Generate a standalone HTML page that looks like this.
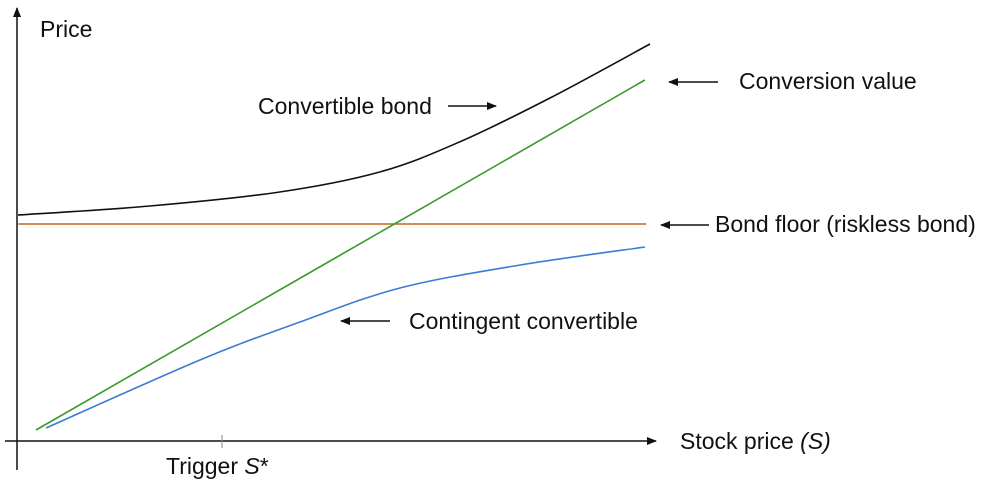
<!DOCTYPE html>
<html><head><meta charset="utf-8"><style>
html,body{margin:0;padding:0;background:#fff;width:984px;height:480px;overflow:hidden}
text{font-family:"Liberation Sans",Arial,sans-serif;font-size:23px;fill:#111}
</style></head><body>
<svg id="chart" width="984" height="480" viewBox="0 0 984 480" xmlns="http://www.w3.org/2000/svg">
<defs><marker id="ah" markerWidth="10" markerHeight="8" refX="9" refY="4" orient="auto" markerUnits="userSpaceOnUse"><path d="M0,0 L10,4 L0,8 Z" fill="#111"/></marker></defs>
<g id="axes">
<line x1="17" y1="470" x2="17" y2="8" stroke="#111" stroke-width="1.5" marker-end="url(#ah)"/>
<line x1="5" y1="441" x2="656" y2="441" stroke="#111" stroke-width="1.5" marker-end="url(#ah)"/>
<line x1="222" y1="435" x2="222" y2="448" stroke="#888" stroke-width="1"/>
<text x="40" y="37">Price</text>
<text x="680" y="449">Stock price <tspan font-style="italic">(S)</tspan></text>
<text x="166" y="474">Trigger <tspan font-style="italic">S</tspan>*</text>
</g>
<g id="series"></g>
<g id="annotations">
<text x="258" y="114">Convertible bond</text>
<line x1="448" y1="106" x2="496" y2="106" stroke="#111" stroke-width="1.5" marker-end="url(#ah)"/>
<text x="739" y="89">Conversion value</text>
<line x1="718" y1="82" x2="669" y2="82" stroke="#111" stroke-width="1.5" marker-end="url(#ah)"/>
<text x="715" y="232">Bond floor (riskless bond)</text>
<line x1="709" y1="225" x2="661" y2="225" stroke="#111" stroke-width="1.5" marker-end="url(#ah)"/>
<text x="409" y="329">Contingent convertible</text>
<line x1="390" y1="321" x2="341" y2="321" stroke="#111" stroke-width="1.5" marker-end="url(#ah)"/>
</g>
</svg>
<script>
const bondS = [0.16, 21.0, 41.5, 57.3, 69.9, 84.2, 100];
const bondP = [56.5, 58.75, 62.25, 67.25, 74.75, 85.75, 99.25];
const convS = [3, 99.2];
const convP = [2.75, 90.25];
const floorS = [0.2, 99.4];
const floorP = [54.25, 54.25];
const cocoS = [4.6, 28.9, 44.7, 60.5, 79.5, 99.2];
const cocoP = [3.25, 20.25, 29.75, 38.25, 44, 48.5];

function xs(s){return 17 + s*6.33;}
function ys(p){return 441 - p*4;}
function smooth(S,P){
  const pts=S.map((s,i)=>[xs(s),ys(P[i])]);
  let d='M'+pts[0][0]+','+pts[0][1];
  for(let i=0;i<pts.length-1;i++){
    const p0=pts[Math.max(0,i-1)],p1=pts[i],p2=pts[i+1],p3=pts[Math.min(pts.length-1,i+2)];
    const c1=[p1[0]+(p2[0]-p0[0])/6,p1[1]+(p2[1]-p0[1])/6];
    const c2=[p2[0]-(p3[0]-p1[0])/6,p2[1]-(p3[1]-p1[1])/6];
    d+=' C'+c1+' '+c2+' '+p2;
  }
  return d;
}
const g=document.getElementById('series');
function add(S,P,color,name){
  const el=document.createElementNS('http://www.w3.org/2000/svg','path');
  el.setAttribute('d',smooth(S,P));
  el.setAttribute('fill','none');
  el.setAttribute('stroke',color);
  el.setAttribute('stroke-width','1.6');
  
  
  g.appendChild(el);
}
add(floorS,floorP,'#c8641e','bond-floor-line');
add(convS,convP,'#3a9a2a','conversion-value-line');
add(cocoS,cocoP,'#3a7bd5','contingent-convertible-line');
add(bondS,bondP,'#111','convertible-bond-line');
</script>
</body></html>
